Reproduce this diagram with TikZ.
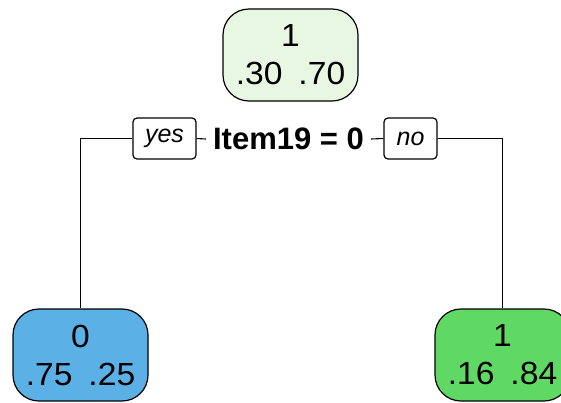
\documentclass[tikz,border=0pt]{standalone}
\usepackage{fontspec}
\usepackage{xcolor}
\setmainfont{Liberation Sans}
\newfontfamily\wideface[FakeStretch=1.05]{Liberation Sans}
\definecolor{rootfill}{RGB}{232,247,226}
\definecolor{zerofill}{RGB}{91,177,230}
\definecolor{onefill}{RGB}{95,217,100}

\begin{document}
\begin{tikzpicture}[x=1pt,y=-1pt,
		leaf/.style={draw=black, line width=1.2pt, rounded corners=26pt, minimum width=135pt, minimum height=92pt, inner sep=0pt, align=center, font=\wideface\fontsize{32}{38}\selectfont},
		answer/.style={draw=black, line width=1.2pt, rounded corners=4pt, minimum height=41pt, inner sep=0pt, font=\itshape\fontsize{25}{30}\selectfont},
		edge/.style={line width=1.1pt, black}]
				\useasboundingbox (0,0) rectangle (561,402);
				
				\node[leaf, fill=rootfill] (root) at (290.5,55) {1\\.30\hspace{0.5em}.70};
				
				\node[answer, minimum width=63pt] (yes) at (164.5,138.5) {yes};
				\node[inner xsep=7pt, font=\bfseries\fontsize{31}{37}\selectfont] (split) at (288.5,139) {Item19 = 0};
				\node[answer, minimum width=53pt] (no) at (410.5,138.5) {no};
				
				\node[leaf, fill=zerofill] (zero) at (80.5,355) {0\\.75\hspace{0.5em}.25};
				\node[leaf, fill=onefill] (one) at (502.5,355) {1\\.16\hspace{0.5em}.84};
				
				\draw[edge] (yes.east) -- (split.west);
				\draw[edge] (split.east) -- (no.west);
				\draw[edge] (yes.west) -| (zero.north);
				\draw[edge] (no.east) -| (one.north);
			\end{tikzpicture}
\end{document}
